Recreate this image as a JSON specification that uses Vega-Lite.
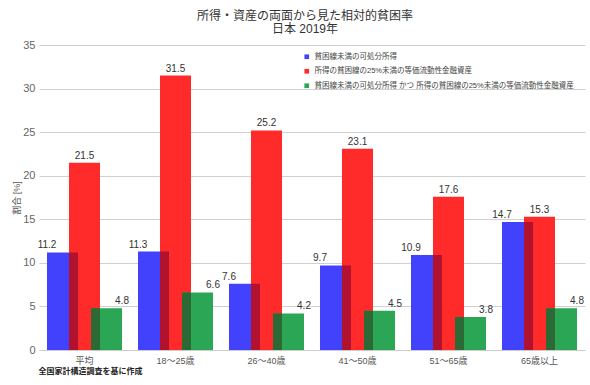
{
  "$schema": "https://vega.github.io/schema/vega-lite/v6.json",
  "width": 546,
  "height": 305,
  "autosize": {"type": "none"},
  "padding": {"left": 39, "top": 45, "right": 5, "bottom": 35},
  "background": "white",
  "config": {
    "font": "Liberation Sans, Noto Sans CJK JP, sans-serif",
    "view": {"stroke": null}
  },
  "title": {
    "text": ["所得・資産の両面から見た相対的貧困率", "日本 2019年"],
    "fontSize": 12,
    "fontWeight": "normal",
    "color": "#333333",
    "dx": -7,
    "offset": 3,
    "lineHeight": 13
  },
  "data": {
    "values": [
      {"age": "平均", "series": "貧困線未満の可処分所得", "value": 11.2},
      {"age": "平均", "series": "所得の貧困線の25%未満の等価流動性金融資産", "value": 21.5},
      {"age": "平均", "series": "貧困線未満の可処分所得 かつ 所得の貧困線の25%未満の等価流動性金融資産", "value": 4.8},
      {"age": "18～25歳", "series": "貧困線未満の可処分所得", "value": 11.3},
      {"age": "18～25歳", "series": "所得の貧困線の25%未満の等価流動性金融資産", "value": 31.5},
      {"age": "18～25歳", "series": "貧困線未満の可処分所得 かつ 所得の貧困線の25%未満の等価流動性金融資産", "value": 6.6},
      {"age": "26～40歳", "series": "貧困線未満の可処分所得", "value": 7.6},
      {"age": "26～40歳", "series": "所得の貧困線の25%未満の等価流動性金融資産", "value": 25.2},
      {"age": "26～40歳", "series": "貧困線未満の可処分所得 かつ 所得の貧困線の25%未満の等価流動性金融資産", "value": 4.2},
      {"age": "41～50歳", "series": "貧困線未満の可処分所得", "value": 9.7},
      {"age": "41～50歳", "series": "所得の貧困線の25%未満の等価流動性金融資産", "value": 23.1},
      {"age": "41～50歳", "series": "貧困線未満の可処分所得 かつ 所得の貧困線の25%未満の等価流動性金融資産", "value": 4.5},
      {"age": "51～65歳", "series": "貧困線未満の可処分所得", "value": 10.9},
      {"age": "51～65歳", "series": "所得の貧困線の25%未満の等価流動性金融資産", "value": 17.6},
      {"age": "51～65歳", "series": "貧困線未満の可処分所得 かつ 所得の貧困線の25%未満の等価流動性金融資産", "value": 3.8},
      {"age": "65歳以上", "series": "貧困線未満の可処分所得", "value": 14.7},
      {"age": "65歳以上", "series": "所得の貧困線の25%未満の等価流動性金融資産", "value": 15.3},
      {"age": "65歳以上", "series": "貧困線未満の可処分所得 かつ 所得の貧困線の25%未満の等価流動性金融資産", "value": 4.8}
    ]
  },
  "encoding": {
    "x": {
      "field": "age",
      "type": "nominal",
      "sort": null,
      "scale": {"paddingInner": 0.1758, "paddingOuter": 0.0879},
      "axis": {
        "labelAngle": 0,
        "labelFontSize": 9,
        "labelColor": "#555555",
        "labelPadding": 6,
        "ticks": false,
        "domainColor": "#cccccc",
        "title": "全国家計構造調査を基に作成",
        "titleAnchor": "start",
        "titleAlign": "left",
        "titleX": -1,
        "titleY": 21,
        "titleBaseline": "middle",
        "titleFontSize": 8,
        "titleFontWeight": "bold",
        "titleColor": "#222222"
      }
    },
    "y": {
      "field": "value",
      "type": "quantitative",
      "scale": {"domain": [0, 35], "nice": false},
      "axis": {
        "values": [0, 5, 10, 15, 20, 25, 30, 35],
        "title": "割合 [%]",
        "titleFontSize": 9,
        "titleFontWeight": "normal",
        "titleColor": "#555555",
        "titlePadding": 1,
        "labelFontSize": 11,
        "labelColor": "#666666",
        "labelPadding": 4,
        "ticks": false,
        "domain": false,
        "gridColor": "#d0d0d0"
      }
    }
  },
  "layer": [
    {
      "transform": [{"filter": {"field": "series", "equal": "貧困線未満の可処分所得"}}],
      "mark": {"type": "bar"},
      "encoding": {
        "xOffset": {"datum": "B", "scale": {"domain": ["B"], "paddingInner": 0, "paddingOuter": 0.7097, "align": 0}},
        "color": {
          "field": "series",
          "type": "nominal",
          "scale": {
            "domain": ["貧困線未満の可処分所得", "所得の貧困線の25%未満の等価流動性金融資産", "貧困線未満の可処分所得 かつ 所得の貧困線の25%未満の等価流動性金融資産"],
            "range": ["#4242fc", "#ff2b2b", "#2aa655"]
          },
          "legend": {
            "title": null,
            "orient": "none",
            "legendX": 264,
            "legendY": 8,
            "symbolType": "square",
            "symbolSize": 22,
            "labelFontSize": 7.5,
            "labelColor": "#444444",
            "labelLimit": 0,
            "rowPadding": 5.5
          }
        }
      }
    },
    {
      "transform": [{"filter": {"field": "series", "equal": "所得の貧困線の25%未満の等価流動性金融資産"}}],
      "mark": {"type": "bar"},
      "encoding": {
        "xOffset": {"datum": "R", "scale": {"domain": ["R"], "paddingInner": 0, "paddingOuter": 0.7097, "align": 0.5}},
        "color": {
          "field": "series",
          "type": "nominal",
          "scale": {
            "domain": ["貧困線未満の可処分所得", "所得の貧困線の25%未満の等価流動性金融資産", "貧困線未満の可処分所得 かつ 所得の貧困線の25%未満の等価流動性金融資産"],
            "range": ["#4242fc", "#ff2b2b", "#2aa655"]
          }
        }
      }
    },
    {
      "transform": [{"filter": {"field": "series", "equal": "貧困線未満の可処分所得 かつ 所得の貧困線の25%未満の等価流動性金融資産"}}],
      "mark": {"type": "bar"},
      "encoding": {
        "xOffset": {"datum": "G", "scale": {"domain": ["G"], "paddingInner": 0, "paddingOuter": 0.7097, "align": 1}},
        "color": {
          "field": "series",
          "type": "nominal",
          "scale": {
            "domain": ["貧困線未満の可処分所得", "所得の貧困線の25%未満の等価流動性金融資産", "貧困線未満の可処分所得 かつ 所得の貧困線の25%未満の等価流動性金融資産"],
            "range": ["#4242fc", "#ff2b2b", "#2aa655"]
          }
        }
      }
    },
    {
      "transform": [
        {"filter": {"field": "series", "oneOf": ["貧困線未満の可処分所得", "所得の貧困線の25%未満の等価流動性金融資産"]}},
        {"aggregate": [{"op": "min", "field": "value", "as": "value"}], "groupby": ["age"]}
      ],
      "mark": {"type": "bar", "color": "#b0122f"},
      "encoding": {
        "xOffset": {"datum": "BR", "scale": {"domain": ["BR"], "paddingInner": 0.7273, "paddingOuter": 1, "align": 0.3333}}
      }
    },
    {
      "transform": [
        {"filter": {"field": "series", "oneOf": ["所得の貧困線の25%未満の等価流動性金融資産", "貧困線未満の可処分所得 かつ 所得の貧困線の25%未満の等価流動性金融資産"]}},
        {"aggregate": [{"op": "min", "field": "value", "as": "value"}], "groupby": ["age"]}
      ],
      "mark": {"type": "bar", "color": "#2b6a34"},
      "encoding": {
        "xOffset": {"datum": "RG", "scale": {"domain": ["RG"], "paddingInner": 0.7273, "paddingOuter": 1, "align": 0.6667}}
      }
    },
    {
      "transform": [{"filter": {"field": "series", "equal": "貧困線未満の可処分所得"}}],
      "mark": {"type": "text", "dy": -7, "fontSize": 10, "color": "#333333"},
      "encoding": {
        "xOffset": {"datum": "B", "scale": {"domain": ["B"], "paddingInner": 0, "paddingOuter": 0.7097, "align": 0}},
        "text": {"field": "value", "type": "quantitative", "format": ".1f"}
      }
    },
    {
      "transform": [{"filter": {"field": "series", "equal": "所得の貧困線の25%未満の等価流動性金融資産"}}],
      "mark": {"type": "text", "dy": -7, "fontSize": 10, "color": "#333333"},
      "encoding": {
        "xOffset": {"datum": "R", "scale": {"domain": ["R"], "paddingInner": 0, "paddingOuter": 0.7097, "align": 0.5}},
        "text": {"field": "value", "type": "quantitative", "format": ".1f"}
      }
    },
    {
      "transform": [{"filter": {"field": "series", "equal": "貧困線未満の可処分所得 かつ 所得の貧困線の25%未満の等価流動性金融資産"}}],
      "mark": {"type": "text", "dy": -7, "fontSize": 10, "color": "#333333"},
      "encoding": {
        "xOffset": {"datum": "G", "scale": {"domain": ["G"], "paddingInner": 0, "paddingOuter": 0.7097, "align": 1}},
        "text": {"field": "value", "type": "quantitative", "format": ".1f"}
      }
    }
  ],
  "resolve": {"scale": {"xOffset": "independent"}}
}
